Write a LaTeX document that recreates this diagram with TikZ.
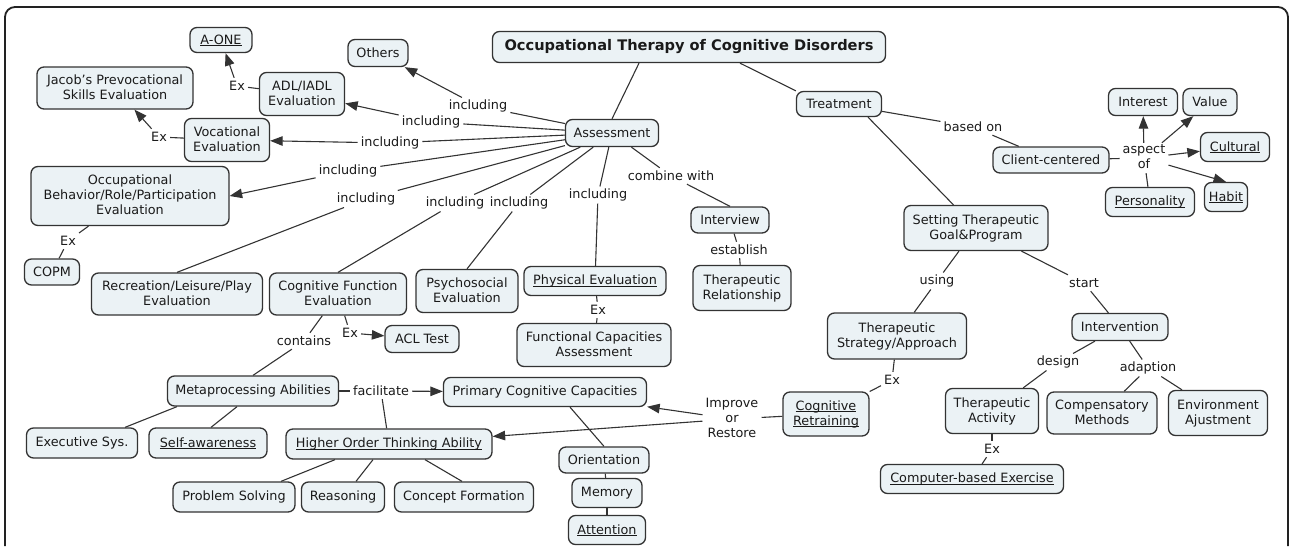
\documentclass[tikz,border=0pt]{standalone}
\usepackage{fontspec}
\setmainfont{DejaVu Sans}
\usetikzlibrary{arrows.meta,calc}
\definecolor{boxfill}{HTML}{EBF2F5}
\definecolor{boxline}{HTML}{333333}
\definecolor{txt}{HTML}{1A1A1A}
\definecolor{framec}{HTML}{222222}
\newcommand\mystrut{\rule[-2pt]{0pt}{12pt}}
\newcommand\ulx[1]{\setbox0\hbox{#1}\rlap{\rule[-2pt]{\wd0}{0.8pt}}\box0}
\begin{document}
\begin{tikzpicture}[x=1pt,y=-1pt,
  every node/.style={font=\fontsize{12.8}{15}\selectfont, text=txt},
  box/.style={draw=boxline, fill=boxfill, line width=1.3pt, rounded corners=7pt, align=center,
    inner xsep=2pt, inner ysep=1pt, execute at begin node=\mystrut, execute at end node=\mystrut},
  sz/.style 2 args={minimum width=#1pt, minimum height=#2pt},
  lab/.style={align=center, inner xsep=3pt, inner ysep=2pt,
    execute at begin node=\mystrut, execute at end node=\mystrut},
  con/.style={draw=boxline, line width=1.1pt},
  arr/.style={con, -{Triangle[length=12.5pt,width=9.5pt]}},
]
\useasboundingbox (0,0) rectangle (1290,546);
\draw[line width=1.8pt, draw=framec, rounded corners=10pt] (5,546) -- (5,7) -- (1288,7) -- (1288,546);

% ---------- concepts ----------
\node[box, sz={393}{31}, font=\fontsize{14.6}{16}\selectfont\bfseries] (title) at (689,47) {Occupational Therapy of Cognitive Disorders};
\node[box, sz={93}{27}] (assess) at (612,133) {Assessment};
\node[box, sz={85}{25}] (treat) at (839,104) {Treatment};
\node[box, sz={60}{27}] (others) at (378,53) {Others};
\node[box, sz={62}{25}] (aone) at (221,40) {\ulx{A-ONE}};
\node[box, sz={156}{42}] (jacob) at (115,88) {Jacob’s Prevocational\\Skills Evaluation};
\node[box, sz={85}{43}] (adl) at (302,94) {ADL/IADL\\Evaluation};
\node[box, sz={85}{43}] (voc) at (227,140) {Vocational\\Evaluation};
\node[box, sz={198}{59}] (occ) at (130,196) {Occupational\\Behavior/Role/Participation\\Evaluation};
\node[box, sz={55}{26}] (copm) at (52,272) {COPM};
\node[box, sz={171}{42}] (rec) at (177,294) {Recreation/Leisure/Play\\Evaluation};
\node[box, sz={137}{42}] (cogf) at (338,294) {Cognitive Function\\Evaluation};
\node[box, sz={102}{43}] (psy) at (467,291) {Psychosocial\\Evaluation};
\node[box, sz={142}{29}] (phys) at (595,281) {\ulx{Physical Evaluation}};
\node[box, sz={154}{43}] (func) at (594,345) {Functional Capacities\\Assessment};
\node[box, sz={78}{26}] (interv) at (730,220) {Interview};
\node[box, sz={98}{45}] (threl) at (742,288) {Therapeutic\\Relationship};
\node[box, sz={74}{27}] (acl) at (422,339) {ACL Test};
\node[box, sz={171}{30}] (meta) at (253,391) {Metaprocessing Abilities};
\node[box, sz={111}{30}] (exec) at (82,443) {Executive Sys.};
\node[box, sz={118}{30}] (self) at (208,443) {\ulx{Self-awareness}};
\node[box, sz={206}{30}] (hota) at (389,444) {\ulx{Higher Order Thinking Ability}};
\node[box, sz={122}{30}] (prob) at (234,497) {Problem Solving};
\node[box, sz={83}{30}] (reas) at (343,497) {Reasoning};
\node[box, sz={139}{30}] (conc) at (464,497) {Concept Formation};
\node[box, sz={203}{29}] (pcc) at (545,392) {Primary Cognitive Capacities};
\node[box, sz={90}{26}] (orient) at (604,460) {Orientation};
\node[box, sz={70}{29}] (memory) at (607,493) {Memory};
\node[box, sz={77}{29}] (attn) at (607,530) {\ulx{Attention}};
\node[box, sz={86}{44}] (cogret) at (826,414) {\ulx{Cognitive}\\\ulx{Retraining}};
\node[box, sz={139}{46}] (strat) at (897,336) {Therapeutic\\Strategy/Approach};
\node[box, sz={144}{45}] (setting) at (976,228) {Setting Therapeutic\\Goal\&Program};
\node[box, sz={116}{26}] (client) at (1051,160) {Client-centered};
\node[box, sz={69}{27}] (interest) at (1143,102) {Interest};
\node[box, sz={54}{27}] (value) at (1210,102) {Value};
\node[box, sz={69}{29}] (cultural) at (1235,147) {\ulx{Cultural}};
\node[box, sz={89}{29}] (personality) at (1150,202) {\ulx{Personality}};
\node[box, sz={43}{29}] (habit) at (1226,197) {\ulx{Habit}};
\node[box, sz={96}{27}] (intervention) at (1120,327) {Intervention};
\node[box, sz={93}{45}] (thact) at (992,411) {Therapeutic\\Activity};
\node[box, sz={110}{42}] (comp) at (1102,413) {Compensatory\\Methods};
\node[box, sz={99}{45}] (env) at (1218,413) {Environment\\Ajustment};
\node[box, sz={183}{29}] (compex) at (972,479) {\ulx{Computer-based Exercise}};

% ---------- linking phrases ----------
\node[lab] (l1) at (478,106) {including};
\node[lab] (l2) at (431,122) {including};
\node[lab] (l3) at (390,143) {including};
\node[lab] (l4) at (348,171) {including};
\node[lab] (l5) at (366,199) {including};
\node[lab] (l6) at (455,203) {including};
\node[lab] (l7) at (519,203) {including};
\node[lab] (l8) at (598,195) {including};
\node[lab] (lcomb) at (671,176) {combine with};
\node[lab] (lest) at (739,250) {establish};
\node[lab] (exaone) at (237,86) {Ex};
\node[lab] (exjac) at (159,137) {Ex};
\node[lab] (excopm) at (68,241) {Ex};
\node[lab] (exphys) at (598,310) {Ex};
\node[lab] (excog) at (350,333) {Ex};
\node[lab] (lcont) at (304,341) {contains};
\node[lab] (lfac) at (381,391) {facilitate};
\node[lab] (limp) at (732,419) {Improve\\or\\Restore};
\node[lab] (lbased) at (973,127) {based on};
\node[lab] (laspect) at (1144,158) {aspect\\of};
\node[lab] (lusing) at (937,281) {using};
\node[lab] (lstart) at (1084,283) {start};
\node[lab] (exstrat) at (892,380) {Ex};
\node[lab] (ldesign) at (1058,362) {design};
\node[lab] (ladapt) at (1148,368) {adaption};
\node[lab] (exact) at (992,449) {Ex};

% ---------- connectors ----------
\draw[con] ([xshift=-50pt]title.south) -- (assess.north);
\draw[con] ([xshift=51pt]title.south) -- (treat.north west);

\draw[con] (assess) -- (l1);  \draw[arr] (l1) -- (others);
\draw[con] (assess) -- (l2);  \draw[arr] (l2) -- (adl);
\draw[con] (assess) -- (l3);  \draw[arr] (l3) -- (voc);
\draw[con] (assess) -- (l4);  \draw[arr] (l4) -- (occ.east);
\draw[con] (assess) -- (l5);  \draw[con] (l5) -- (rec.north);
\draw[con] (assess) -- (l6);  \draw[con] (l6) -- (cogf.north);
\draw[con] (assess) -- (l7);  \draw[con] (l7) -- (psy.north);
\draw[con] (assess) -- (l8);  \draw[con] (l8) -- (phys);
\draw[con] (assess) -- (lcomb); \draw[con] (lcomb) -- (interv.north);
\draw[con] (interv) -- (lest); \draw[con] (lest) -- (threl);

\draw[con] (adl) -- (exaone); \draw[arr] (exaone) -- (aone);
\draw[con] (voc) -- (exjac); \draw[arr] (exjac) -- (jacob);
\draw[con] (occ) -- (excopm); \draw[con] (excopm) -- (copm);
\draw[con] (phys) -- (exphys); \draw[con] (exphys) -- (func);
\draw[con] (cogf) -- (excog); \draw[arr] (excog) -- (acl);
\draw[con] (cogf) -- (lcont); \draw[con] (lcont) -- (meta.north);

\draw[con] ([xshift=-76pt]meta.south) -- ([xshift=43pt]exec.north);
\draw[con] ([xshift=-16pt]meta.south) -- ([xshift=3pt]self.north);
\draw[con] (meta) -- (lfac); \draw[arr] (lfac) -- (pcc); \draw[con] (lfac) -- (hota);
\draw[con] ([xshift=-54pt]hota.south) -- ([xshift=47pt]prob.north);
\draw[con] ([xshift=-16pt]hota.south) -- ([xshift=13pt]reas.north);
\draw[con] ([xshift=36pt]hota.south) -- ([xshift=-2pt]conc.north);

\draw[con] ([xshift=25pt]pcc.south) -- (orient.north);
\draw[con] (orient) -- (memory);
\draw[con] (memory) -- (attn);

\draw[con] (cogret) -- (limp); \draw[arr] (limp) -- (pcc); \draw[arr] (limp) -- (hota);

\draw[con] (treat) -- (lbased); \draw[con] (lbased) -- (client);
\draw[con] (client) -- (laspect);
\draw[arr] (laspect) -- (interest);
\draw[arr] (laspect) -- (value);
\draw[arr] (laspect) -- (cultural);
\draw[arr] (laspect) -- (habit.north);
\draw[con] (personality) -- (laspect);

\draw[con] ([xshift=29pt]treat.south) -- (setting);
\draw[con] (setting) -- (lusing); \draw[con] (lusing) -- (strat);
\draw[con] (setting) -- (lstart); \draw[con] (lstart) -- (intervention);
\draw[con] (strat) -- (exstrat); \draw[con] (exstrat) -- (cogret);
\draw[con] (intervention) -- (ldesign); \draw[con] (ldesign) -- (thact);
\draw[con] (intervention) -- (ladapt); \draw[con] (ladapt) -- (comp); \draw[con] (ladapt) -- (env);
\draw[con] (thact) -- (exact); \draw[con] (exact) -- (compex);
\end{tikzpicture}
\end{document}
